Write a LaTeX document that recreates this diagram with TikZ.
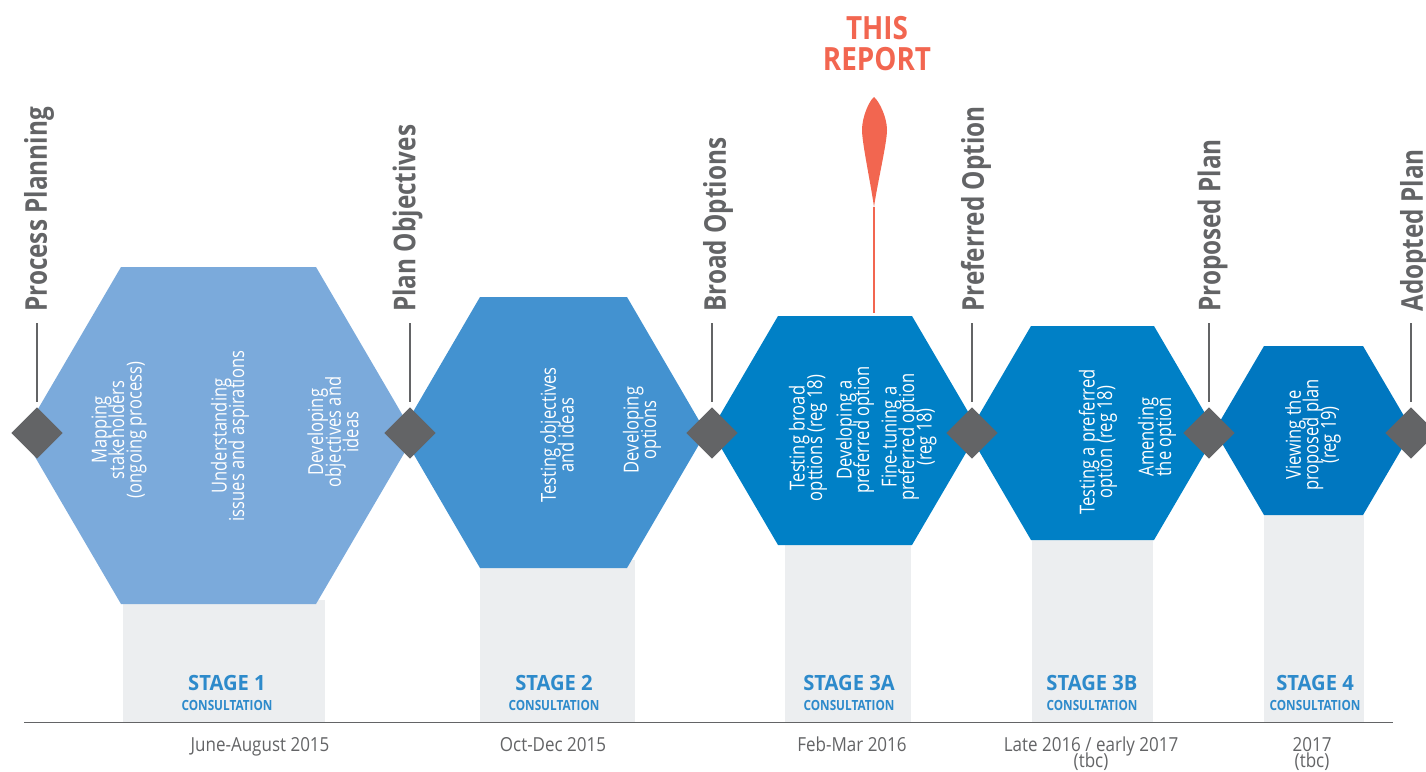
\documentclass[tikz,border=0pt]{standalone}
\usepackage{fontspec}
\setmainfont{Open Sans}[FakeStretch=0.8]
\newfontfamily\labelfam{Open Sans}[FakeStretch=0.81]
\newfontfamily\stagefam{Open Sans}[FakeStretch=0.96]
\newfontfamily\consultfam{Open Sans}[FakeStretch=0.84]
\newfontfamily\datefam{Open Sans}[FakeStretch=0.88]
\newfontfamily\reportfam{Open Sans}[FakeStretch=0.87]
\usetikzlibrary{shapes.geometric}
\setlength{\lineskiplimit}{-100pt}
\setlength{\normallineskiplimit}{-100pt}
\definecolor{hexa}{HTML}{7BAADB}
\definecolor{hexb}{HTML}{4392D0}
\definecolor{hexc}{HTML}{0080C6}
\definecolor{hexd}{HTML}{0077C0}
\definecolor{slate}{HTML}{636466}
\definecolor{pale}{HTML}{ECEEF0}
\definecolor{salmon}{HTML}{F26650}
\definecolor{stageblue}{HTML}{2D8ACB}
\tikzset{
  x=0.75pt,y=-0.75pt,
  hexbody/.style={fill=#1},
  gate/.style={diamond,fill=slate,minimum width=38.5pt,minimum height=38.5pt,inner sep=0pt,outer sep=0pt},
  gatelabel/.style={rotate=90,anchor=west,inner sep=0pt,text=slate,font=\labelfam\fontsize{22.5}{24}\selectfont\bfseries},
  leader/.style={draw=slate,line width=1.5pt,shorten <=8.25pt,shorten >=4pt},
  inhex/.style={rotate=90,align=center,inner sep=0pt,text=white,font=\fontsize{15.5}{13.2}\selectfont},
  stagename/.style={inner sep=0pt,text=stageblue,font=\stagefam\fontsize{15.75}{17}\selectfont\bfseries},
  consult/.style={inner sep=0pt,text=stageblue,font=\consultfam\fontsize{10.5}{12}\selectfont\bfseries},
  datelabel/.style={anchor=base,inner sep=0pt,text=slate,align=center,font=\datefam\fontsize{14.5}{15}\selectfont},
  reporttext/.style={inner sep=0pt,text=salmon,font=\reportfam\fontsize{24}{26}\selectfont\bfseries},
}
\begin{document}
\begin{tikzpicture}
\useasboundingbox (0,0) rectangle (1426,771);
% grey stage columns
\fill[pale] (123,600) rectangle (325,722);
\fill[pale] (480,560) rectangle (635,722);
\fill[pale] (785,540) rectangle (911,722);
\fill[pale] (1032,535) rectangle (1153,722);
\fill[pale] (1264,510) rectangle (1364,722);
% hexagons
\fill[hexbody=hexa] (121,267) -- (316,267) -- (414.5,435.5) -- (316,604) -- (121,604) -- (22.5,435.5) -- cycle;
\fill[hexbody=hexb] (480,297) -- (627,297) -- (706,432.5) -- (627,568) -- (480,568) -- (401,432.5) -- cycle;
\fill[hexbody=hexc] (778,316) -- (912,316) -- (979,430.5) -- (912,545) -- (778,545) -- (711,430.5) -- cycle;
\fill[hexbody=hexc] (1031,326) -- (1154,326) -- (1216.5,433) -- (1154,540) -- (1031,540) -- (968.5,433) -- cycle;
\fill[hexbody=hexd] (1264,346) -- (1363,346) -- (1412.5,430.5) -- (1363,515) -- (1264,515) -- (1214.5,430.5) -- cycle;
% baseline
\coordinate (baseL) at (24,722);
\coordinate (baseR) at (1393,722);
\draw[slate,line width=0.75pt] (baseL) -- (baseR);
% gates
\node[gate] (d1) at (37,433) {};
\node[gate] (d2) at (410,433) {};
\node[gate] (d3) at (712,433) {};
\node[gate] (d4) at (972,433) {};
\node[gate] (d5) at (1209,433) {};
\node[gate] (d6) at (1411,433) {};
% gate labels
\node[gatelabel] (l1) at (39,312) {Process Planning};
\node[gatelabel] (l2) at (407.5,312) {Plan Objectives};
\node[gatelabel] (l3) at (718,312) {Broad Options};
\node[gatelabel] (l4) at (976,312) {Preferred Option};
\node[gatelabel] (l5) at (1212.5,312) {Proposed Plan};
\node[gatelabel] (l6) at (1415,312) {Adopted Plan};
\draw[leader] (l1.west -| d1) -- (d1.north);
\draw[leader] (l2.west -| d2) -- (d2.north);
\draw[leader] (l3.west -| d3) -- (d3.north);
\draw[leader] (l4.west -| d4) -- (d4.north);
\draw[leader] (l5.west -| d5) -- (d5.north);
\draw[leader] (l6.west -| d6) -- (d6.north);
% hexagon texts
\node[inhex] (t1) at (119,430) {Mapping\\stakeholders\\(ongoing process)};
\node[inhex] (t2) at (230,436) {Understanding\\issues and aspirations};
\node[inhex] (t3) at (333,432) {Developing\\objectives and\\ideas};
\node[inhex] (t4) at (557,435) {Testing objectives\\and ideas};
\node[inhex] (t5) at (642,430) {Developing\\options};
\node[inhex] (t6) at (808,438) {Testing broad\\opttions (reg 18)};
\node[inhex] (t7) at (855,430) {Developing a\\preferred option};
\node[inhex] (t8) at (909,437) {Fine-tuning a\\preferred option\\(reg 18)};
\node[inhex] (t9) at (1098,442) {Testing a preferred\\option (reg 18)};
\node[inhex] (t10) at (1157,437) {Amending\\the option};
\node[inhex] (t11) at (1313,435) {Viewing the\\proposed plan\\(reg 19)};
% stage labels
\node[stagename] (s1) at (227,683) {STAGE 1};
\node[consult] (c1) at (227,705) {CONSULTATION};
\node[stagename] (s2) at (554,683) {STAGE 2};
\node[consult] (c2) at (554,705) {CONSULTATION};
\node[stagename] (s3) at (849,683) {STAGE 3A};
\node[consult] (c3) at (849,705) {CONSULTATION};
\node[stagename] (s4) at (1092,683) {STAGE 3B};
\node[consult] (c4) at (1092,705) {CONSULTATION};
\node[stagename] (s5) at (1315,683) {STAGE 4};
\node[consult] (c5) at (1315,705) {CONSULTATION};
% dates
\node[datelabel] (w1) at (260,751) {June-August 2015};
\node[datelabel] (w2) at (553,751) {Oct-Dec 2015};
\node[datelabel] (w3) at (852,751) {Feb-Mar 2016};
\node[datelabel] (w4) at (1091,751) {Late 2016 / early 2017};
\node[datelabel] (w4b) at (1091,767) {(tbc)};
\node[datelabel] (w5) at (1312,751) {2017};
\node[datelabel] (w5b) at (1312,767) {(tbc)};
% this report pin
\node[reporttext] (r1) at (877,28) {THIS};
\node[reporttext] (r2) at (877,59) {REPORT};
\coordinate (pinbase) at (874,207);
\coordinate (pinfoot) at (874,313);
\fill[salmon] (874,97) .. controls (869,101) and (862,117) .. (862,130)
  .. controls (862,143) and (871,185) .. (pinbase)
  .. controls (877,185) and (887,143) .. (887,130)
  .. controls (887,117) and (879,101) .. (874,97) -- cycle;
\draw[salmon,line width=1.5pt] (pinbase) -- (pinfoot);
\end{tikzpicture}
\end{document}
